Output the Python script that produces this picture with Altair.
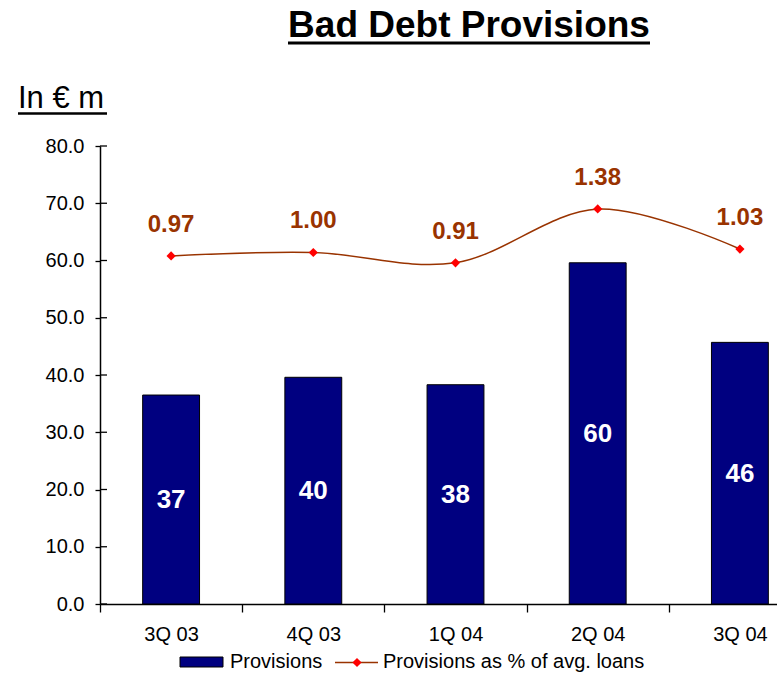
import altair as alt
import pandas as pd

quarters = ["3Q 03", "4Q 03", "1Q 04", "2Q 04", "3Q 04"]
provisions = [36.5, 39.6, 38.3, 59.6, 45.7]
provision_labels = ["37", "40", "38", "60", "46"]
pct_loans = [0.97, 1.00, 0.91, 1.38, 1.03]
y_ticks = [0, 10, 20, 30, 40, 50, 60, 70, 80]

title_text = "Bad Debt Provisions"
unit_text = "In € m"
legend_bar = "Provisions"
legend_line = "Provisions as % of avg. loans"

FONT = "Liberation Sans"
NAVY = "#000080"
BROWN = "#993300"

df = pd.DataFrame({"q": quarters, "prov": provisions, "plabel": provision_labels, "pct": pct_loans})
ticks_df = pd.DataFrame({"v": y_ticks})
one = pd.DataFrame({"a": [0]})

x_enc = alt.X(
    "q:N", sort=quarters,
    scale=alt.Scale(range=[0, 711], paddingInner=0, paddingOuter=0),
    axis=alt.Axis(title=None, labelAngle=0, tickBand="extent", tickSize=8, labelPadding=12,
                  labelFontSize=20, labelFont=FONT, labelColor="black",
                  domainColor="black", tickColor="black", domainWidth=1.5, tickWidth=1.3),
)

y_axis = alt.Axis(title=None, values=y_ticks, format=".1f", grid=False, tickSize=5, labelPadding=11,
                  labelFontSize=20, labelFont=FONT, labelColor="black",
                  domainColor="black", tickColor="black", domainWidth=1.5, tickWidth=1.3)
y_scale = alt.Scale(domain=[0, 80], nice=False)

bars = alt.Chart(df).mark_bar(fill=NAVY, stroke="black", strokeWidth=1,
                              width=alt.RelativeBandSize(0.4)).encode(
    x=x_enc, y=alt.Y("prov:Q", scale=y_scale, axis=y_axis))

bar_text = alt.Chart(df).transform_calculate(mid="datum.prov / 2").mark_text(
    color="white", fontSize=26, fontWeight="bold", font=FONT, baseline="alphabetic", dy=8.5
).encode(x=x_enc, y=alt.Y("mid:Q", scale=y_scale, axis=y_axis), text="plabel:N")

inner_ticks = alt.Chart(ticks_df).mark_rule(color="black", strokeWidth=1.3).encode(
    y=alt.Y("v:Q", scale=y_scale, axis=y_axis), x=alt.value(0), x2=alt.value(7)
)

left = alt.layer(bars, bar_text, inner_ticks)

y_right = alt.Y("pct:Q", scale=alt.Scale(domain=[-2.07, 1.93], nice=False, zero=False), axis=None)

line = alt.Chart(df).mark_line(interpolate="cardinal", tension=0, color=BROWN, strokeWidth=1.5).encode(
    x=x_enc, y=y_right)
pts = alt.Chart(df).mark_point(shape="diamond", filled=True, color="red", size=85, opacity=1).encode(x=x_enc, y=y_right)
pct_text = alt.Chart(df).mark_text(
    color=BROWN, fontSize=24, fontWeight="bold", font=FONT, baseline="alphabetic", dy=-24
).encode(x=x_enc, y=y_right, text=alt.Text("pct:Q", format=".2f"))

right = alt.layer(line, pts, pct_text)

# Title and unit label (with underlines)
title = alt.Chart(one).mark_text(fontSize=37, fontWeight="bold", font=FONT, baseline="alphabetic",
                                 align="center", color="black").encode(
    x=alt.value(369), y=alt.value(-109), text=alt.value(title_text))
title_ul = alt.Chart(one).mark_rule(color="black", strokeWidth=3).encode(
    x=alt.value(188), x2=alt.value(550), y=alt.value(-103))
unit = alt.Chart(one).mark_text(fontSize=31, font=FONT, baseline="alphabetic", align="left",
                                color="black").encode(
    x=alt.value(-82), y=alt.value(-38), text=alt.value(unit_text))
unit_ul = alt.Chart(one).mark_rule(color="black", strokeWidth=2.5).encode(
    x=alt.value(-82), x2=alt.value(7), y=alt.value(-32.5))

# Legend
leg_rect = alt.Chart(one).mark_rect(fill=NAVY, stroke="black", strokeWidth=1).encode(
    x=alt.value(80), x2=alt.value(123), y=alt.value(511), y2=alt.value(521))
leg_t1 = alt.Chart(one).mark_text(fontSize=20, font=FONT, baseline="middle", align="left", color="black").encode(
    x=alt.value(130), y=alt.value(516), text=alt.value(legend_bar))
leg_line = alt.Chart(one).mark_rule(color=BROWN, strokeWidth=1.5).encode(
    x=alt.value(235), x2=alt.value(278), y=alt.value(516.5))
leg_pt = alt.Chart(one).mark_point(shape="diamond", filled=True, color="red", size=85, opacity=1).encode(
    x=alt.value(257), y=alt.value(516.5))
leg_t2 = alt.Chart(one).mark_text(fontSize=20, font=FONT, baseline="middle", align="left", color="black").encode(
    x=alt.value(283), y=alt.value(516), text=alt.value(legend_line))

chart = alt.layer(
    left, right, title, title_ul, unit, unit_ul, leg_rect, leg_t1, leg_line, leg_pt, leg_t2
).resolve_scale(y="independent").properties(
    width=677, height=458,
    autosize=alt.AutoSizeParams(type="none"),
    padding={"left": 100, "top": 146, "right": 0, "bottom": 69},
    background="white",
).configure_view(stroke=None)

chart.save("out.html", embed_options={"renderer": "svg", "actions": False})
